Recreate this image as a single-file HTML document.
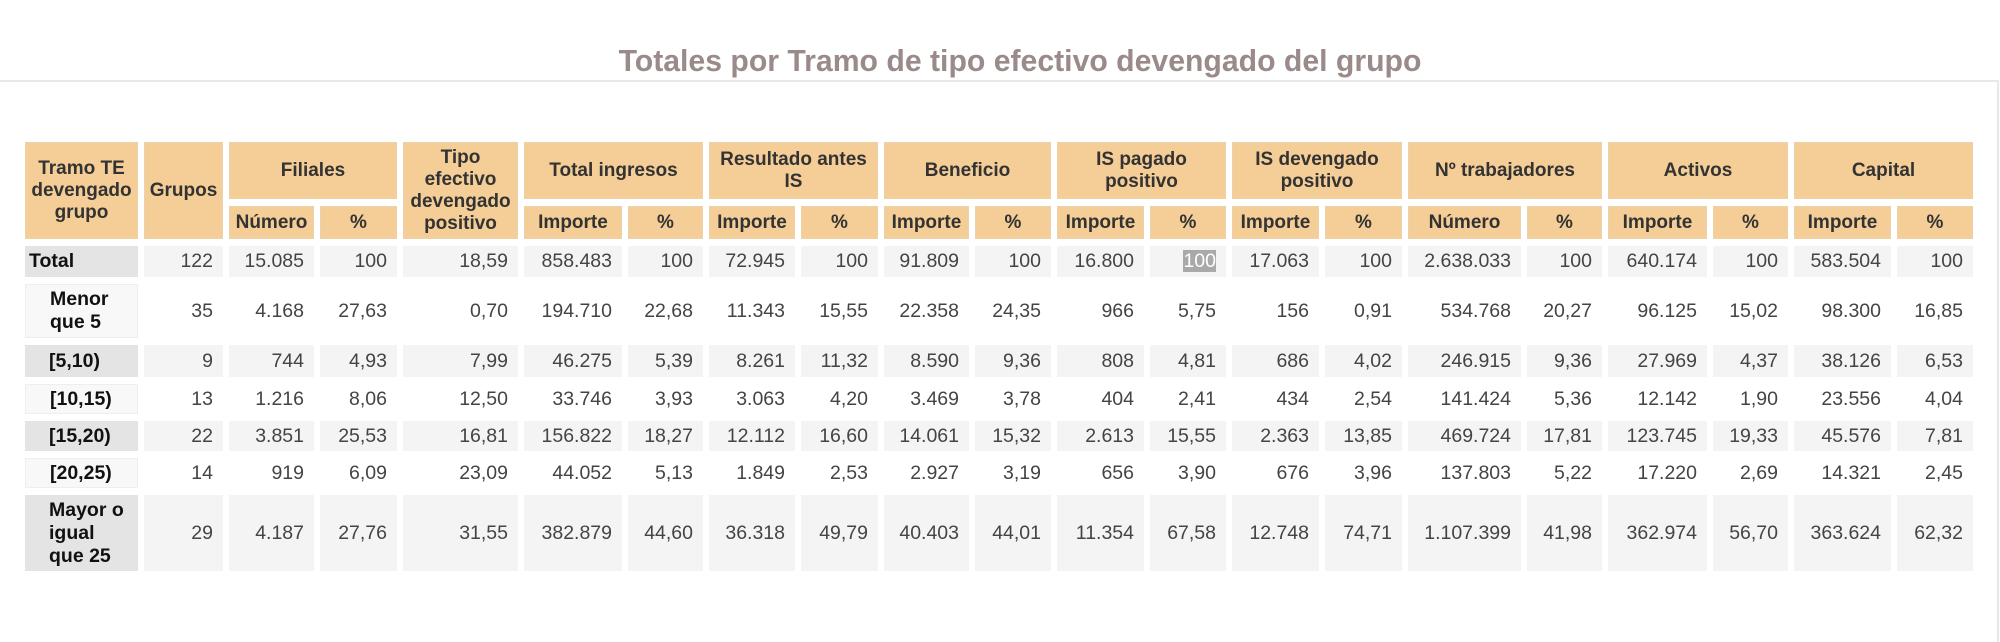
<!DOCTYPE html>
<html><head><meta charset="utf-8">
<style>
html,body{margin:0;padding:0;background:#fff;width:2000px;height:625px;overflow:hidden;font-family:"Liberation Sans",sans-serif;}
.title{position:absolute;left:0;width:2040px;top:45px;text-align:center;font-size:30.2px;font-weight:bold;color:#9b8a8a;}
.frame{position:absolute;left:0;top:80px;width:1997px;height:560px;border-top:2px solid #e8e8e8;border-right:2px solid #e8e8e8;}
table{position:absolute;left:19px;top:135px;border-collapse:separate;border-spacing:6px 7px;table-layout:fixed;}
th{background:#f5cd96;color:#333;font-size:19px;font-weight:bold;text-align:center;line-height:22px;padding:0 2px;border:1px solid #ecd2ac;}
td{font-size:19.5px;color:#444;text-align:right;padding:0 10px 0 0;background:#f4f4f4;}
tr.e td{background:#fff;}
td.f{font-weight:bold;color:#111;text-align:left;padding-left:24px;background:#e4e4e4;}
tr.e td.f{background:#f8f8f8;border:1px solid #eee;}
td.t{padding-left:4px;}
.sel{background:#a9a9a9;color:#fff;}
</style></head><body>
<div class="title">Totales por Tramo de tipo efectivo devengado del grupo</div>
<div class="frame"></div>
<table>
<colgroup>
<col style="width:113px"><col style="width:79px"><col style="width:85px"><col style="width:77px"><col style="width:115px"><col style="width:98px"><col style="width:75px"><col style="width:86px"><col style="width:77px"><col style="width:85px"><col style="width:76px"><col style="width:87px"><col style="width:76px"><col style="width:87px"><col style="width:77px"><col style="width:113px"><col style="width:75px"><col style="width:99px"><col style="width:75px"><col style="width:97px"><col style="width:76px">
</colgroup>
<tr style="height:57px">
<th rowspan="2">Tramo TE devengado grupo</th><th rowspan="2">Grupos</th><th colspan="2">Filiales</th><th rowspan="2">Tipo efectivo devengado positivo</th><th colspan="2">Total ingresos</th><th colspan="2">Resultado antes IS</th><th colspan="2">Beneficio</th><th colspan="2">IS pagado positivo</th><th colspan="2">IS devengado positivo</th><th colspan="2">Nº trabajadores</th><th colspan="2">Activos</th><th colspan="2">Capital</th>
</tr>
<tr style="height:33px">
<th>Número</th><th>%</th><th>Importe</th><th>%</th><th>Importe</th><th>%</th><th>Importe</th><th>%</th><th>Importe</th><th>%</th><th>Importe</th><th>%</th><th>Número</th><th>%</th><th>Importe</th><th>%</th><th>Importe</th><th>%</th>
</tr>
<tr style="height:31px"><td class="f t">Total</td><td>122</td><td>15.085</td><td>100</td><td>18,59</td><td>858.483</td><td>100</td><td>72.945</td><td>100</td><td>91.809</td><td>100</td><td>16.800</td><td><span class="sel">100</span></td><td>17.063</td><td>100</td><td>2.638.033</td><td>100</td><td>640.174</td><td>100</td><td>583.504</td><td>100</td></tr>
<tr class="e" style="height:54px"><td class="f">Menor que 5</td><td>35</td><td>4.168</td><td>27,63</td><td>0,70</td><td>194.710</td><td>22,68</td><td>11.343</td><td>15,55</td><td>22.358</td><td>24,35</td><td>966</td><td>5,75</td><td>156</td><td>0,91</td><td>534.768</td><td>20,27</td><td>96.125</td><td>15,02</td><td>98.300</td><td>16,85</td></tr>
<tr style="height:32px"><td class="f">[5,10)</td><td>9</td><td>744</td><td>4,93</td><td>7,99</td><td>46.275</td><td>5,39</td><td>8.261</td><td>11,32</td><td>8.590</td><td>9,36</td><td>808</td><td>4,81</td><td>686</td><td>4,02</td><td>246.915</td><td>9,36</td><td>27.969</td><td>4,37</td><td>38.126</td><td>6,53</td></tr>
<tr class="e" style="height:30px"><td class="f">[10,15)</td><td>13</td><td>1.216</td><td>8,06</td><td>12,50</td><td>33.746</td><td>3,93</td><td>3.063</td><td>4,20</td><td>3.469</td><td>3,78</td><td>404</td><td>2,41</td><td>434</td><td>2,54</td><td>141.424</td><td>5,36</td><td>12.142</td><td>1,90</td><td>23.556</td><td>4,04</td></tr>
<tr style="height:30px"><td class="f">[15,20)</td><td>22</td><td>3.851</td><td>25,53</td><td>16,81</td><td>156.822</td><td>18,27</td><td>12.112</td><td>16,60</td><td>14.061</td><td>15,32</td><td>2.613</td><td>15,55</td><td>2.363</td><td>13,85</td><td>469.724</td><td>17,81</td><td>123.745</td><td>19,33</td><td>45.576</td><td>7,81</td></tr>
<tr class="e" style="height:30px"><td class="f">[20,25)</td><td>14</td><td>919</td><td>6,09</td><td>23,09</td><td>44.052</td><td>5,13</td><td>1.849</td><td>2,53</td><td>2.927</td><td>3,19</td><td>656</td><td>3,90</td><td>676</td><td>3,96</td><td>137.803</td><td>5,22</td><td>17.220</td><td>2,69</td><td>14.321</td><td>2,45</td></tr>
<tr style="height:76px"><td class="f">Mayor o igual que 25</td><td>29</td><td>4.187</td><td>27,76</td><td>31,55</td><td>382.879</td><td>44,60</td><td>36.318</td><td>49,79</td><td>40.403</td><td>44,01</td><td>11.354</td><td>67,58</td><td>12.748</td><td>74,71</td><td>1.107.399</td><td>41,98</td><td>362.974</td><td>56,70</td><td>363.624</td><td>62,32</td></tr>
</table>
</body></html>
